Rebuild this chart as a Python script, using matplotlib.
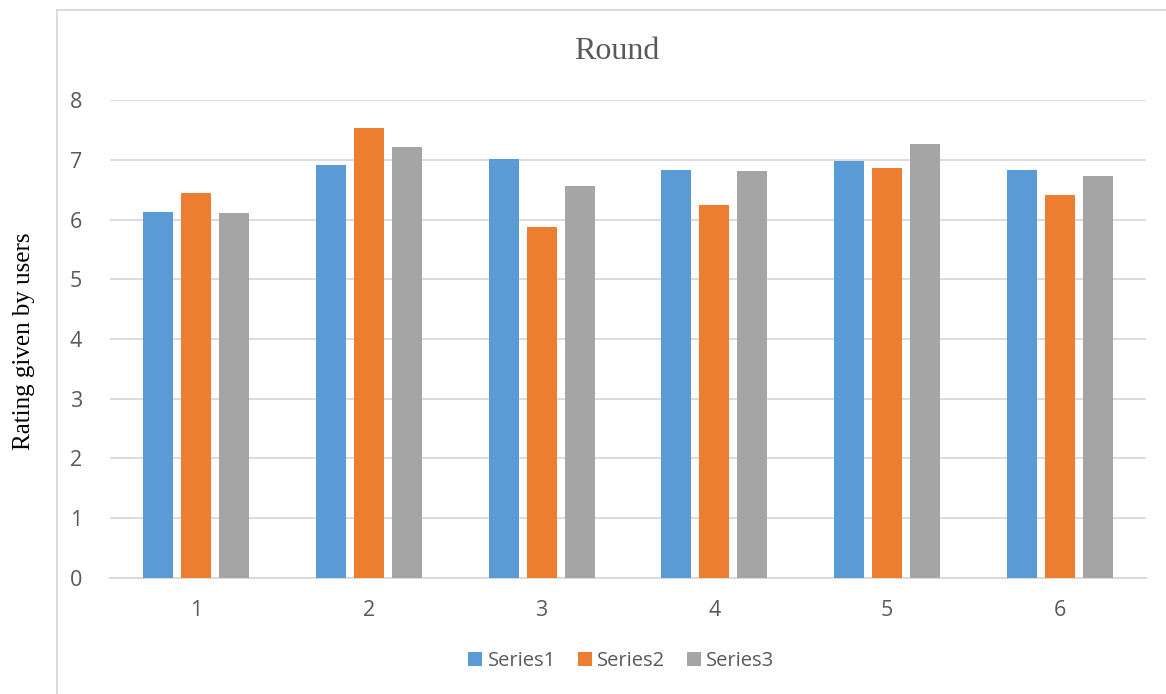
import numpy as np
import matplotlib
matplotlib.use('Agg')
from matplotlib import pyplot as plt
from matplotlib.lines import Line2D

# values
rounds = ['1', '2', '3', '4', '5', '6']
series1 = [6.13, 6.91, 7.01, 6.83, 6.98, 6.84]
series2 = [6.44, 7.53, 5.87, 6.25, 6.86, 6.41]
series3 = [6.11, 7.21, 6.57, 6.81, 7.26, 6.73]
names = ['Series1', 'Series2', 'Series3']
colors = ['#5B9BD5', '#ED7D31', '#A5A5A5']

txt = '#595959'
grid = '#D9D9D9'

fig = plt.figure(figsize=(11.66, 6.94), dpi=100)
ax = fig.add_axes([0.0943, 0.1676, 0.8885, 0.6879])

x = np.arange(len(rounds))
pitch = 0.22
width = 0.174
for i, (vals, name, col) in enumerate(zip([series1, series2, series3], names, colors)):
    ax.bar(x + (i - 1) * pitch, vals, width, color=col, label=name, zorder=3)

ax.set_xlim(-0.5, len(rounds) - 0.5)
ax.set_ylim(0, 8)
ax.set_yticks(range(0, 9))
ax.set_xticks(x)
ax.set_xticklabels(rounds)
ax.yaxis.grid(True, color=grid, linewidth=1.3, zorder=0)
ax.tick_params(length=0, labelsize=15.5, labelcolor=txt)
ax.tick_params(axis='x', pad=16)
ax.tick_params(axis='y', pad=20)
for lab in ax.get_xticklabels() + ax.get_yticklabels():
    lab.set_family('Open Sans')
for s in ['top', 'right', 'left']:
    ax.spines[s].set_visible(False)
ax.spines['bottom'].set_color(grid)
ax.spines['bottom'].set_linewidth(1.3)

fig.text(0.529, 0.926, 'Round', ha='center', va='center', fontsize=23,
         color=txt, family='Liberation Serif')
fig.text(0.021, 0.508, 'Rating given by users', ha='center', va='center',
         rotation=90, fontsize=18, color='black', family='Liberation Serif')

leg = fig.legend(loc='center', bbox_to_anchor=(0.533, 0.047), ncol=3, frameon=False,
                 prop={'family': 'Open Sans', 'size': 14.5}, handlelength=0.7,
                 handleheight=0.7, handletextpad=0.25, columnspacing=1.1)
for t in leg.get_texts():
    t.set_color(txt)

# chart frame (cropped on the right/bottom)
fl = 57 / 1166
ft = 1 - 10 / 694
fig.add_artist(Line2D([fl, fl], [0, ft], color=grid, linewidth=1.3))
fig.add_artist(Line2D([fl, 1], [ft, ft], color=grid, linewidth=1.3))

plt.savefig('out.png', dpi=100)
